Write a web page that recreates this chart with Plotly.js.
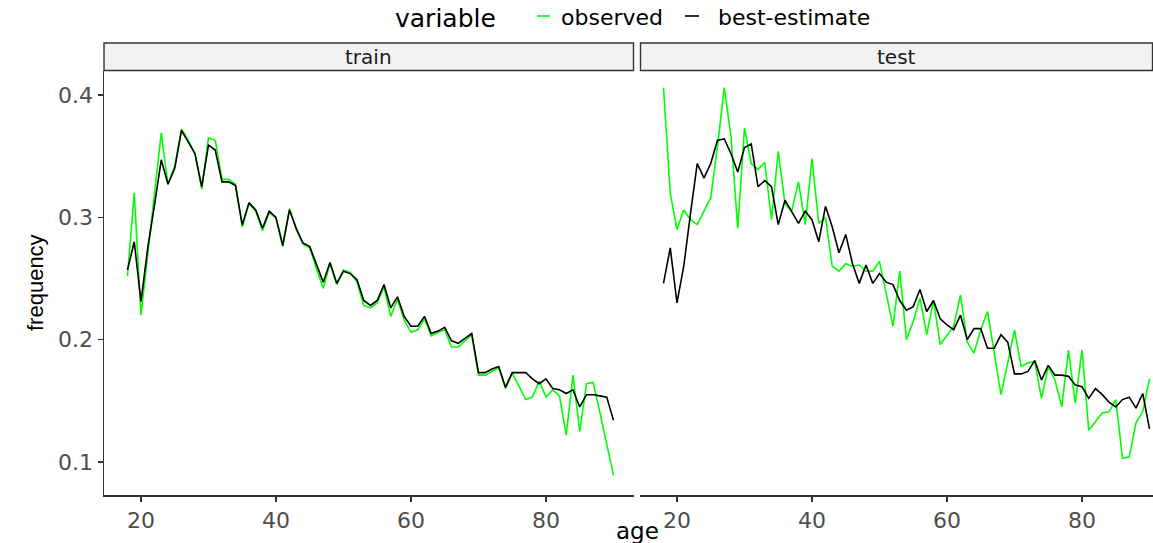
<!DOCTYPE html>
<html>
<head>
<meta charset="utf-8">
<script src="https://cdn.plot.ly/plotly-3.0.1.min.js"></script>
<style>html,body{margin:0;padding:0;background:#fff;}#chart{width:1153px;height:543px;}</style>
</head>
<body>
<div id="chart"></div>
<script>
// ---- data ----
const ages = [18,19,20,21,22,23,24,25,26,27,28,29,30,31,32,33,34,35,36,37,38,39,40,41,42,43,44,45,46,47,48,49,50,51,52,53,54,55,56,57,58,59,60,61,62,63,64,65,66,67,68,69,70,71,72,73,74,75,76,77,78,79,80,81,82,83,84,85,86,87,88,89,90];

const trainObserved = [0.252,0.320,0.220,0.270,0.318,0.369,0.327,0.342,0.372,0.363,0.352,0.323,0.365,0.363,0.331,0.331,0.327,0.292,0.311,0.305,0.289,0.304,0.299,0.276,0.307,0.290,0.278,0.275,0.258,0.242,0.262,0.245,0.257,0.255,0.247,0.228,0.226,0.230,0.243,0.219,0.233,0.216,0.206,0.208,0.217,0.203,0.206,0.208,0.194,0.194,0.199,0.204,0.171,0.171,0.174,0.177,0.160,0.1725,0.162,0.151,0.153,0.166,0.153,0.159,0.154,0.122,0.171,0.125,0.164,0.165,0.140,0.115,0.089];

const trainBest = [0.257,0.280,0.231,0.275,0.310,0.347,0.327,0.340,0.371,0.362,0.352,0.325,0.359,0.355,0.329,0.329,0.326,0.294,0.312,0.306,0.291,0.305,0.300,0.277,0.306,0.291,0.279,0.276,0.261,0.247,0.263,0.246,0.256,0.254,0.249,0.232,0.228,0.232,0.245,0.226,0.235,0.219,0.211,0.211,0.219,0.205,0.207,0.210,0.199,0.197,0.201,0.205,0.173,0.173,0.176,0.178,0.161,0.173,0.173,0.173,0.168,0.164,0.168,0.160,0.159,0.156,0.159,0.145,0.155,0.155,0.154,0.153,0.134];

const testObserved = [0.406,0.320,0.290,0.306,0.298,0.294,0.305,0.316,0.358,0.406,0.366,0.291,0.373,0.344,0.339,0.345,0.298,0.354,0.311,0.305,0.329,0.294,0.348,0.295,0.300,0.260,0.256,0.262,0.260,0.261,0.256,0.256,0.264,0.236,0.211,0.256,0.200,0.215,0.234,0.204,0.232,0.196,0.204,0.211,0.2365,0.198,0.189,0.208,0.223,0.189,0.155,0.181,0.208,0.178,0.181,0.182,0.152,0.178,0.167,0.145,0.1915,0.148,0.1915,0.126,0.133,0.140,0.141,0.151,0.103,0.104,0.132,0.141,0.168];

const testBest = [0.246,0.275,0.230,0.260,0.303,0.344,0.332,0.344,0.363,0.364,0.352,0.337,0.357,0.360,0.325,0.330,0.325,0.294,0.314,0.305,0.295,0.305,0.298,0.280,0.309,0.292,0.271,0.286,0.262,0.246,0.261,0.246,0.254,0.247,0.245,0.232,0.224,0.227,0.241,0.223,0.232,0.217,0.212,0.208,0.220,0.200,0.209,0.209,0.193,0.193,0.204,0.198,0.172,0.172,0.174,0.183,0.167,0.179,0.171,0.171,0.170,0.163,0.1615,0.152,0.160,0.155,0.149,0.145,0.151,0.153,0.144,0.156,0.127];

const panels = ['train','test'];
const seriesNames = ['observed','best-estimate'];
const seriesColors = ['#00FF00','#000000'];
const xTicks = [20,40,60,80];
const yTicks = [0.1,0.2,0.3,0.4];

// ---- layout geometry ----
const W = 1153, H = 543;
const mL = 104, mR = 0, mT = 71, mB = 48;
const pw = W - mL - mR, ph = H - mT - mB;
const px = v => (v - mL) / pw;
const py = v => (H - mB - v) / ph;

const tickFont = {family: 'DejaVu Sans, Liberation Sans, sans-serif', size: 22, color: '#4D4D4D'};
const lineW = 1.6;

const traces = [];
const data = {train: [trainObserved, trainBest], test: [testObserved, testBest]};
panels.forEach((p, pi) => {
  seriesNames.forEach((s, si) => {
    traces.push({
      type: 'scatter', mode: 'lines', name: s,
      x: ages, y: data[p][si],
      xaxis: pi === 0 ? 'x' : 'x2', yaxis: pi === 0 ? 'y' : 'y2',
      line: {color: seriesColors[si], width: lineW},
      showlegend: false, hoverinfo: 'x+y'
    });
  });
});

const yRange = [0.073, 0.4196];
const axisCommon = {
  showgrid: false, zeroline: false, ticks: 'outside', ticklen: 5, tickwidth: 1.2,
  tickcolor: '#333333', tickfont: tickFont, linecolor: '#333333', linewidth: 1.5
};

const layout = {
  width: W, height: H,
  margin: {l: mL, r: mR, t: mT, b: mB, pad: 0},
  paper_bgcolor: '#FFFFFF', plot_bgcolor: '#FFFFFF',
  showlegend: false,
  xaxis: Object.assign({}, axisCommon, {domain: [0, px(634)], range: [14.52, 93.04], tickvals: xTicks, showline: true, anchor: 'y'}),
  xaxis2: Object.assign({}, axisCommon, {domain: [px(640), 1], range: [14.52, 90.52], tickvals: xTicks, showline: true, anchor: 'y2'}),
  yaxis: Object.assign({}, axisCommon, {domain: [0, 1], range: yRange, tickvals: yTicks, ticktext: yTicks.map(v => v.toFixed(1)), showline: true, anchor: 'x'}),
  yaxis2: Object.assign({}, axisCommon, {domain: [0, 1], range: yRange, tickvals: yTicks, showticklabels: false, ticks: '', showline: false, anchor: 'x2'}),
  shapes: [],
  annotations: []
};

// strips
const stripTop = py(43), stripBot = py(70.5);
[[104, 633.5, 'train'], [640.5, 1152.5, 'test']].forEach(([a, b, t]) => {
  layout.shapes.push({type: 'rect', xref: 'paper', yref: 'paper', x0: px(a), x1: px(b), y0: stripBot, y1: stripTop,
    fillcolor: '#F2F2F2', line: {color: '#333333', width: 1.4}});
  layout.annotations.push({xref: 'paper', yref: 'paper', x: px((a + b) / 2), y: (stripTop + stripBot) / 2,
    text: t, showarrow: false, xanchor: 'center', yanchor: 'middle',
    font: {family: 'DejaVu Sans, Liberation Sans, sans-serif', size: 20, color: '#1A1A1A'}});
});

// axis titles
layout.annotations.push({xref: 'paper', yref: 'paper', x: px(637), y: py(531), text: 'age', showarrow: false,
  xanchor: 'center', yanchor: 'middle', font: {family: 'DejaVu Sans, sans-serif', size: 23, color: '#000000'}});
layout.annotations.push({xref: 'paper', yref: 'paper', x: px(35), y: py(283), text: 'frequency', showarrow: false,
  textangle: -90, xanchor: 'center', yanchor: 'middle', font: {family: 'Liberation Sans, Arial, sans-serif', size: 22, color: '#000000'}});

// legend (top)
const legFont = {family: 'DejaVu Sans, Liberation Sans, sans-serif', size: 22, color: '#000000'};
layout.annotations.push({xref: 'paper', yref: 'paper', x: px(393), y: py(19), text: 'variable', showarrow: false,
  xanchor: 'left', yanchor: 'middle', font: Object.assign({}, legFont, {size: 25})});
const legItems = [[537, 550, 559], [685, 699, 716]];
seriesNames.forEach((s, i) => {
  const [a, b, t] = legItems[i];
  layout.shapes.push({type: 'line', xref: 'paper', yref: 'paper', x0: px(a), x1: px(b), y0: py(16), y1: py(16),
    line: {color: seriesColors[i], width: 1.6}});
  layout.annotations.push({xref: 'paper', yref: 'paper', x: px(t), y: py(17), text: s, showarrow: false,
    xanchor: 'left', yanchor: 'middle', font: legFont});
});

Plotly.newPlot('chart', traces, layout, {displayModeBar: false, staticPlot: true});
</script>
</body>
</html>
